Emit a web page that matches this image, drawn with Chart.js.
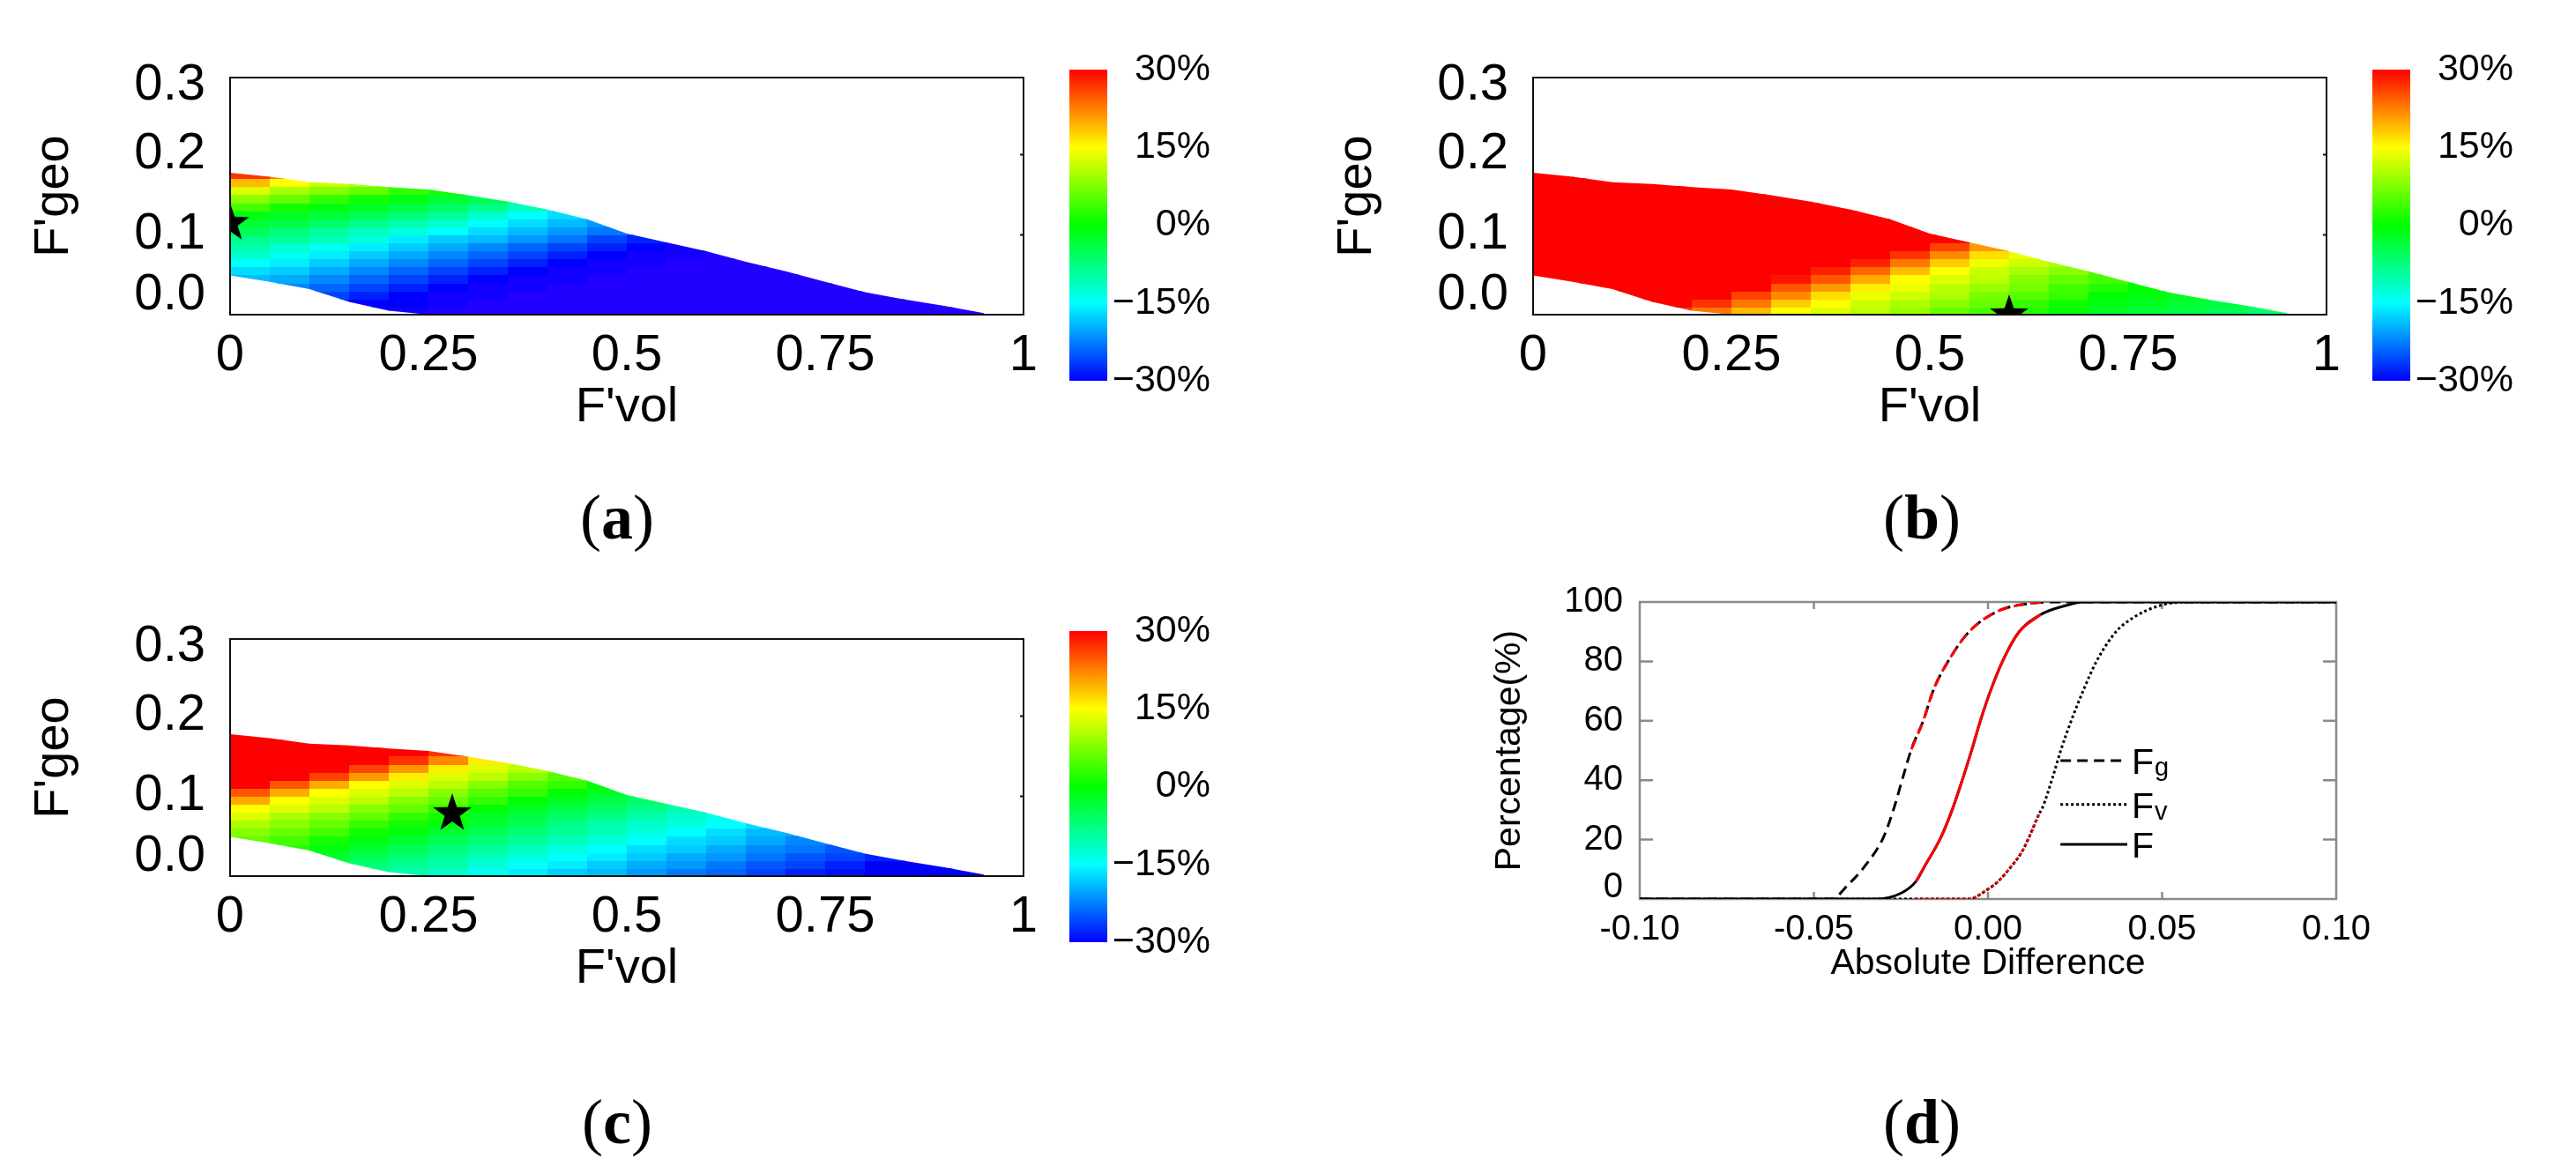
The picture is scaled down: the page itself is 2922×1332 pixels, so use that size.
<!DOCTYPE html>
<html><head><meta charset="utf-8">
<script src="https://cdn.jsdelivr.net/npm/chart.js@4.4.1/dist/chart.umd.min.js"></script>
<style>
html,body{margin:0;padding:0;background:#fff;}
body{width:2922px;height:1332px;position:relative;overflow:hidden;}
canvas{position:absolute;}
.cap{position:absolute;font-family:'Liberation Serif','Times New Roman',serif;font-size:72px;line-height:1;transform:translate(-50%,-50%);white-space:nowrap;color:#000;}
</style></head><body>
<canvas id="ha" width="1190" height="520" style="left:0px;top:0px"></canvas>
<canvas id="hb" width="1190" height="520" style="left:1478px;top:0px"></canvas>
<canvas id="hc" width="1190" height="520" style="left:0px;top:637px"></canvas>
<canvas id="cba" width="200" height="440" style="left:1200px;top:40px"></canvas>
<canvas id="cbb" width="200" height="440" style="left:2678px;top:40px"></canvas>
<canvas id="cbc" width="200" height="440" style="left:1200px;top:677px"></canvas>
<canvas id="cd" width="1100" height="500" style="left:1600px;top:640px"></canvas>
<div class="cap" style="left:700px;top:587px">(<b>a</b>)</div>
<div class="cap" style="left:2180px;top:587px">(<b>b</b>)</div>
<div class="cap" style="left:700px;top:1273px">(<b>c</b>)</div>
<div class="cap" style="left:2180px;top:1273px">(<b>d</b>)</div>
<script>
// ---------- data: heat maps (a), (b), (c) ----------
const edgeX = [0,0.05,0.1,0.15,0.2,0.25,0.3,0.35,0.4,0.45,0.5,0.55,0.6,0.65,0.7,0.75,0.8,0.85,0.9,0.95];
const topEdge = [0.177,0.172,0.165,0.163,0.159,0.156,0.149,0.141,0.131,0.119,0.101,0.09,0.079,0.066,0.054,0.041,0.028,0.019,0.011,0.002];
const bottomEdge = [0.049,0.041,0.032,0.016,0.005,0,0,0,0,0,0,0,0,0,0,0,0,0,0,0];
const cellW = 0.05, cellH = 0.01;
const rowStart = [4,3,1,0,0,0,0,0,0,0,0,0,0,0,0,0,0,0,0];
const cellsA = [
 [-19,-17,-15,-12,-10,-8,-5,-3,-1,4,8,13,19,27],
 [-22,-20,-18,-16,-14,-12,-9,-7,-4,-2,1,6,10,15,23],
 [-28,-26,-24,-22,-20,-18,-16,-14,-11,-9,-6,-3,-1,3,8,12],
 [-30,-30,-28,-26,-24,-22,-20,-18,-16,-13,-11,-8,-5,-2,1,6,10],
 [-31,-30,-30,-28,-26,-24,-22,-20,-18,-16,-13,-10,-7,-4,-1,3],
 [-32,-31,-31,-30,-28,-26,-24,-22,-20,-18,-15,-12,-9,-6,-3,1],
 [-32,-32,-31,-31,-30,-28,-26,-24,-22,-19,-17,-15,-12,-8,-5],
 [-33,-32,-32,-31,-31,-30,-28,-26,-24,-21,-19,-17,-15,-11,-7],
 [-33,-33,-32,-32,-31,-31,-30,-28,-26,-23,-21,-19,-17,-14],
 [-33,-33,-33,-32,-32,-31,-31,-30,-28,-26,-23,-21],
 [-33,-33,-33,-33,-32,-32,-31,-31,-30,-28,-25],
 [-33,-33,-33,-33,-33,-32,-32,-31,-31],
 [-33,-33,-33,-33,-33,-33,-32,-32],
 [-33,-33,-33,-33,-33,-33,-32],
 [-33,-33,-33,-33,-33,-33],
 [-33,-33,-33,-33,-33],
 [-33,-33,-33],
 [-33,-33],
 [-33,-33]
];
const cellsB = [
 [30,30,30,30,30,30,30,30,30,30,30,30,30,30],
 [30,30,30,30,30,30,30,30,30,30,30,30,30,30,30],
 [30,30,30,30,30,30,30,30,30,30,30,30,30,30,30,30],
 [27,30,30,30,30,30,30,30,30,30,30,30,30,30,30,30,30],
 [23,27,30,30,30,30,30,30,30,30,30,30,30,30,30,30],
 [19,23,26,30,30,30,30,30,30,30,30,30,30,30,30,30],
 [15,18,22,25,29,30,30,30,30,30,30,30,30,30,30],
 [13,15,17,21,25,28,30,30,30,30,30,30,30,30,30],
 [11,12,14,16,20,24,28,30,30,30,30,30,30,30],
 [9,10,12,14,15,19,23,27,30,30,30,30],
 [6,8,10,11,13,15,18,22,26,30,30],
 [4,6,7,9,11,12,14,17,21],
 [2,3,5,7,8,10,12,14],
 [0,1,3,4,6,8,10],
 [-2,-1,0,2,4,5],
 [-3,-2,-1,0,1],
 [-4,-3,-2],
 [-5,-4],
 [-6,-5]
];
const cellsC = [
 [6,8,10,13,15,20,25,30,30,30,30,30,30,30],
 [2,4,6,8,10,13,15,20,25,30,30,30,30,30,30],
 [-5,-3,-1,1,4,6,8,11,13,15,20,26,30,30,30,30],
 [-8,-7,-5,-3,-1,1,3,6,8,11,13,15,21,26,30,30,30],
 [-10,-9,-7,-5,-3,-1,1,3,6,8,11,13,16,21,27,30],
 [-12,-10,-9,-7,-5,-3,-1,1,3,6,8,11,13,16,22,27],
 [-14,-13,-11,-9,-7,-5,-3,-2,0,3,5,8,11,13,16],
 [-16,-15,-13,-11,-9,-7,-5,-4,-2,0,3,5,8,11,13],
 [-18,-16,-15,-13,-11,-9,-8,-6,-4,-2,0,3,5,8],
 [-19,-18,-16,-15,-13,-11,-10,-8,-6,-4,-2,0],
 [-21,-20,-18,-17,-15,-13,-12,-10,-8,-6,-4],
 [-23,-21,-20,-18,-17,-15,-13,-12,-10],
 [-24,-23,-21,-20,-18,-17,-15,-14],
 [-26,-25,-23,-22,-20,-19,-17],
 [-28,-26,-25,-23,-22,-20],
 [-29,-28,-26,-25,-23],
 [-30,-30,-28],
 [-30,-30],
 [-30,-30]
];
const starA = [0, 0.114];
const starB = [0.6, 0.0];
const starC = [0.28, 0.078];
const heatXTicks = [0, 0.25, 0.5, 0.75, 1];
const heatXLabels = ['0', '0.25', '0.5', '0.75', '1'];
const heatYTickPos = [0.024, 0.1, 0.2, 0.286];
const heatYLabels = ['0.0', '0.1', '0.2', '0.3'];
const heatRightTicks = [0.1, 0.2];
const cbTicks = [-30, -15, 0, 15, 30];
const cbLabels = ['\u221230%', '\u221215%', '0%', '15%', '30%'];

// ---------- data: CDF panel (d) ----------
const fgX = [-0.10,-0.045,-0.040,-0.0354,-0.030,-0.027,-0.0245,-0.022,-0.0185,-0.0157,-0.0114,-0.0055,0.003,0.0114,0.020,0.10];
const fgY = [0,0,5,11,20.8,30.6,40.7,50.4,60.3,70.3,80.1,89.9,97,99.4,100,100];
const fgRedX = [-0.022,-0.0185,-0.0157,-0.0114,-0.0055,0.003,0.0114,0.016];
const fgRedY = [50.4,60.3,70.3,80.1,89.9,97,99.4,100];
const fvX = [-0.10,-0.0055,-0.0004,0.0029,0.0067,0.0097,0.0118,0.0147,0.0156,0.0185,0.021,0.024,0.0274,0.0312,0.0367,0.0418,0.0494,0.057,0.10];
const fvY = [0,0,3,5.9,11,15.8,20.8,28.7,30.6,40.7,50.4,60.3,70.3,80.1,89.9,94.8,98.8,100,100];
const fvRedX = [-0.0207,-0.0055,-0.0004,0.0029,0.0067,0.0097,0.0118,0.0147];
const fvRedY = [0,0,3,5.9,11,15.8,20.8,28.7];
const fX = [-0.10,-0.0324,-0.0249,-0.0207,-0.0182,-0.0135,-0.0101,-0.0072,-0.0046,-0.0021,0.0008,0.0042,0.0089,0.0152,0.0224,0.0274,0.10];
const fY = [0,0,2,5.9,11,20.8,30.6,40.7,50.4,60.3,70.3,80.1,89.9,95.8,98.8,100,100];
const fRedX = [-0.0207,-0.0182,-0.0135,-0.0101,-0.0072,-0.0046,-0.0021,0.0008,0.0042,0.0089,0.0152];
const fRedY = [5.9,11,20.8,30.6,40.7,50.4,60.3,70.3,80.1,89.9,95.8];
const dXTicks = [-0.10,-0.05,0,0.05,0.10];
const dXLabels = ['-0.10','-0.05','0.00','0.05','0.10'];
const dYTickPos = [4,20,40,60,80,100];
const dYLabels = ['0','20','40','60','80','100'];
const dInnerY = [20,40,60,80];
const dInnerX = [-0.05,0,0.05];
const legendAt = [46.6, 31.8, 18.4];
const legendX = [0.0208, 0.040];

// ---------- rendering ----------
Chart.defaults.font.family = "'Liberation Sans', Arial, Helvetica, sans-serif";
Chart.defaults.color = '#000';

function colorFor(v) {
  let h = (30 - v) * 4;
  h = Math.max(0, Math.min(248, h));
  return 'hsl(' + h + ',100%,50%)';
}

function starImage(R, r) {
  const c = document.createElement('canvas');
  const s = Math.ceil(2 * R + 2);
  c.width = s; c.height = s;
  const g = c.getContext('2d');
  g.translate(s / 2, s / 2);
  g.beginPath();
  for (let i = 0; i < 10; i++) {
    const a = -Math.PI / 2 + i * Math.PI / 5;
    const rr = i % 2 === 0 ? R : r;
    g.lineTo(rr * Math.cos(a), rr * Math.sin(a));
  }
  g.closePath();
  g.fillStyle = '#000';
  g.fill();
  return c;
}
const starImg = starImage(23, 9);

function heatPlugin(cells) {
  return {
    id: 'heat',
    beforeDatasetsDraw(chart) {
      const {ctx, chartArea: a, scales: {x, y}} = chart;
      ctx.save();
      ctx.beginPath();
      ctx.rect(a.left, a.top, a.right - a.left, a.bottom - a.top);
      ctx.clip();
      ctx.beginPath();
      for (let i = 0; i < edgeX.length; i++) {
        const px = x.getPixelForValue(edgeX[i]), py = y.getPixelForValue(topEdge[i]);
        if (i === 0) ctx.moveTo(px, py); else ctx.lineTo(px, py);
      }
      for (let i = edgeX.length - 1; i >= 0; i--) {
        ctx.lineTo(x.getPixelForValue(edgeX[i]), y.getPixelForValue(bottomEdge[i]));
      }
      ctx.closePath();
      ctx.clip();
      cells.forEach((col, c) => {
        const x0 = Math.round(x.getPixelForValue(edgeX[c]));
        const x1 = Math.round(x.getPixelForValue(edgeX[c] + cellW));
        col.forEach((v, k) => {
          const r = rowStart[c] + k;
          const yb = Math.round(y.getPixelForValue(r * cellH));
          const yt = Math.round(y.getPixelForValue((r + 1) * cellH));
          ctx.fillStyle = colorFor(v);
          ctx.fillRect(x0, yt, x1 - x0 + 1, yb - yt + 1);
        });
      });
      ctx.restore();
    }
  };
}

const heatBox = {
  id: 'heatBox',
  afterDatasetsDraw(chart) {
    const {ctx, chartArea: a, scales: {y}} = chart;
    ctx.save();
    ctx.strokeStyle = '#111';
    ctx.lineWidth = 2;
    ctx.strokeRect(a.left, a.top, a.right - a.left, a.bottom - a.top);
    ctx.beginPath();
    heatRightTicks.forEach(t => {
      const py = Math.round(y.getPixelForValue(t)) + 0.5;
      ctx.moveTo(a.right, py); ctx.lineTo(a.right - 4, py);
    });
    ctx.stroke();
    ctx.restore();
  }
};

function heatChart(id, cells, star) {
  return new Chart(document.getElementById(id), {
    type: 'scatter',
    data: {datasets: [{data: [{x: star[0], y: star[1]}], pointStyle: starImg, pointRadius: 23, clip: 0}]},
    options: {
      responsive: false, animation: false, devicePixelRatio: 1, events: [],
      layout: {padding: {top: 88, right: 29, left: 0, bottom: 0}},
      plugins: {legend: {display: false}, tooltip: {enabled: false}},
      scales: {
        x: {
          type: 'linear', min: 0, max: 1,
          grid: {display: false, drawTicks: false}, border: {display: false},
          afterBuildTicks: s => { s.ticks = heatXTicks.map(v => ({value: v})); },
          ticks: {font: {size: 58}, padding: 12, maxRotation: 0, autoSkip: false, callback: (v, i) => heatXLabels[i]},
          title: {display: true, text: "F'vol", font: {size: 56}, padding: {top: 0, bottom: 24}},
          afterFit: s => { s.height = 163; }
        },
        y: {
          type: 'linear', min: 0, max: 0.2956,
          grid: {display: false, drawTicks: false}, border: {display: false},
          afterBuildTicks: s => { s.ticks = heatYTickPos.map(v => ({value: v})); },
          ticks: {font: {size: 58}, padding: 28, autoSkip: false, callback: (v, i) => heatYLabels[i]},
          title: {display: true, text: "F'geo", font: {size: 56}, padding: {top: 28, bottom: 0}},
          afterFit: s => { s.width = 261; }
        }
      }
    },
    plugins: [heatPlugin(cells), heatBox]
  });
}

const cbPlugin = {
  id: 'cbGrad',
  beforeDatasetsDraw(chart) {
    const {ctx, chartArea: a, scales: {y}} = chart;
    const yt = y.getPixelForValue(30), yb = y.getPixelForValue(-30);
    const g = ctx.createLinearGradient(0, yt, 0, yb);
    [0, 60, 120, 180, 240].forEach((h, i) => g.addColorStop(i / 4, 'hsl(' + h + ',100%,50%)'));
    ctx.save();
    ctx.fillStyle = g;
    ctx.fillRect(a.left, yt, a.right - a.left, yb - yt);
    ctx.restore();
  }
};

function colorbar(id) {
  return new Chart(document.getElementById(id), {
    type: 'scatter',
    data: {datasets: []},
    options: {
      responsive: false, animation: false, devicePixelRatio: 1, events: [],
      layout: {padding: {top: 39, right: 27, left: 13, bottom: 48}},
      plugins: {legend: {display: false}, tooltip: {enabled: false}},
      scales: {
        x: {display: false, min: 0, max: 1},
        y: {
          position: 'right', min: -30, max: 30,
          grid: {display: false, drawTicks: false}, border: {display: false},
          afterBuildTicks: s => { s.ticks = cbTicks.map(v => ({value: v})); },
          ticks: {font: {size: 43}, padding: 3, crossAlign: 'far', autoSkip: false, callback: (v, i) => cbLabels[i]},
          afterFit: s => { s.width = 117; }
        }
      }
    },
    plugins: [cbPlugin]
  });
}

heatChart('ha', cellsA, starA);
heatChart('hb', cellsB, starB);
heatChart('hc', cellsC, starC);
colorbar('cba');
colorbar('cbb');
colorbar('cbc');

// ---------- panel (d) ----------
const toPts = (xs, ys) => xs.map((x, i) => ({x: x, y: ys[i]}));
const dBox = {
  id: 'dBox',
  beforeDatasetsDraw(chart) {
    const {ctx, chartArea: a, scales: {x, y}} = chart;
    ctx.save();
    ctx.strokeStyle = '#8a8a8a';
    ctx.lineWidth = 2.5;
    ctx.strokeRect(a.left, a.top, a.right - a.left, a.bottom - a.top);
    ctx.beginPath();
    dInnerY.forEach(t => {
      const py = y.getPixelForValue(t);
      ctx.moveTo(a.left, py); ctx.lineTo(a.left + 15, py);
      ctx.moveTo(a.right, py); ctx.lineTo(a.right - 15, py);
    });
    dInnerX.forEach(t => {
      const px = x.getPixelForValue(t);
      ctx.moveTo(px, a.bottom); ctx.lineTo(px, a.bottom - 8);
      ctx.moveTo(px, a.top); ctx.lineTo(px, a.top + 8);
    });
    ctx.stroke();
    ctx.restore();
  }
};
const dLegend = {
  id: 'dLegend',
  afterDatasetsDraw(chart) {
    const {ctx, scales: {x, y}} = chart;
    const ds = chart.data.datasets.slice(3);
    const x0 = x.getPixelForValue(legendX[0]), x1 = x.getPixelForValue(legendX[1]);
    ctx.save();
    ds.forEach((d, i) => {
      const py = y.getPixelForValue(legendAt[i]);
      ctx.strokeStyle = d.borderColor;
      ctx.lineWidth = d.borderWidth;
      ctx.setLineDash(d.borderDash || []);
      ctx.beginPath(); ctx.moveTo(x0, py); ctx.lineTo(x1, py); ctx.stroke();
      ctx.setLineDash([]);
      ctx.fillStyle = '#000';
      ctx.textBaseline = 'alphabetic';
      ctx.textAlign = 'left';
      ctx.font = "41px 'Liberation Sans', Arial, sans-serif";
      const main = d.label.charAt(0), sub = d.label.slice(1);
      ctx.fillText(main, x1 + 5, py + 15);
      const w = ctx.measureText(main).width;
      if (sub) {
        ctx.font = "29px 'Liberation Sans', Arial, sans-serif";
        ctx.fillText(sub, x1 + 5 + w + 1, py + 17);
      }
    });
    ctx.restore();
  }
};
const lineBase = {pointRadius: 0, borderWidth: 3, fill: false, cubicInterpolationMode: 'monotone'};
new Chart(document.getElementById('cd'), {
  type: 'line',
  data: {datasets: [
    Object.assign({label: 'Fg', data: toPts(fgRedX, fgRedY), borderColor: '#ff0000', borderDash: [12, 7]}, lineBase),
    Object.assign({label: 'Fv', data: toPts(fvRedX, fvRedY), borderColor: '#ff0000', borderDash: [3, 3]}, lineBase),
    Object.assign({label: 'F', data: toPts(fRedX, fRedY), borderColor: '#ff0000'}, lineBase),
    Object.assign({label: 'Fg', data: toPts(fgX, fgY), borderColor: '#000000', borderDash: [12, 7]}, lineBase),
    Object.assign({label: 'Fv', data: toPts(fvX, fvY), borderColor: '#000000', borderDash: [3, 3]}, lineBase),
    Object.assign({label: 'F', data: toPts(fX, fY), borderColor: '#000000'}, lineBase)
  ]},
  options: {
    responsive: false, animation: false, devicePixelRatio: 1, events: [],
    layout: {padding: {top: 43, right: 50, left: 0, bottom: 0}},
    plugins: {legend: {display: false}, tooltip: {enabled: false}},
    scales: {
      x: {
        type: 'linear', min: -0.1, max: 0.1,
        grid: {display: false, drawTicks: false}, border: {display: false},
        afterBuildTicks: s => { s.ticks = dXTicks.map(v => ({value: v})); },
        ticks: {font: {size: 40}, padding: 11, maxRotation: 0, autoSkip: false, callback: (v, i) => dXLabels[i]},
        title: {display: true, text: 'Absolute Difference', font: {size: 41}, padding: {top: 0, bottom: 22}},
        afterFit: s => { s.height = 120; }
      },
      y: {
        type: 'linear', min: 0, max: 100,
        grid: {display: false, drawTicks: false}, border: {display: false},
        afterBuildTicks: s => { s.ticks = dYTickPos.map(v => ({value: v})); },
        ticks: {font: {size: 40}, padding: 19, autoSkip: false, callback: (v, i) => dYLabels[i]},
        title: {display: true, text: 'Percentage(%)', font: {size: 41}, padding: {top: 88, bottom: 0}},
        afterFit: s => { s.width = 260; }
      }
    }
  },
  plugins: [dBox, dLegend]
});
</script>
</body></html>
